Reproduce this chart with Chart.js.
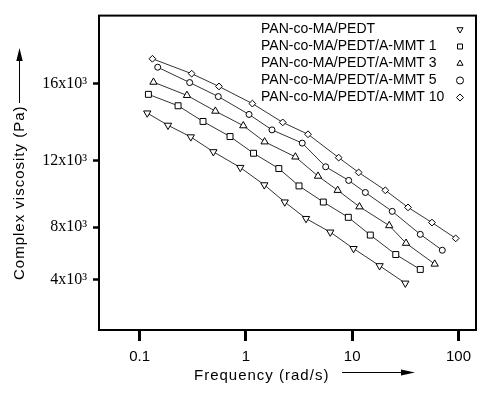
<!DOCTYPE html>
<html>
<head>
<meta charset="utf-8">
<script src="https://cdn.jsdelivr.net/npm/chart.js@4"></script>
<style>
  body { margin: 0; background: #fff; }
  #wrap { width: 491px; height: 396px; }
</style>
</head>
<body>
<div id="wrap"><canvas id="viscosity" width="491" height="396"></canvas></div>
<script>
// series labels
const seriesNames = ['PAN-co-MA/PEDT', 'PAN-co-MA/PEDT/A-MMT 1', 'PAN-co-MA/PEDT/A-MMT 3',
  'PAN-co-MA/PEDT/A-MMT 5', 'PAN-co-MA/PEDT/A-MMT 10'];

// frequency (rad/s) and complex viscosity (Pa)
const freqPEDT = [0.118, 0.185, 0.303, 0.494, 0.886, 1.49, 2.32, 3.68, 6.22, 10.3, 18.1, 31.6];
const viscPEDT = [14540, 13910, 13300, 12500, 11630, 10630, 9600, 8560, 7660, 6500, 5180, 3660];
const freqMMT1 = [0.121, 0.230, 0.395, 0.709, 1.18, 2.04, 3.16, 5.35, 9.19, 14.8, 25.7, 43.7];
const viscMMT1 = [15480, 14910, 14110, 13320, 12420, 11570, 10570, 9600, 8640, 7460, 6060, 4880];
const freqMMT3 = [0.135, 0.279, 0.516, 0.945, 1.50, 2.92, 4.77, 7.30, 11.7, 22.3, 32.1, 59.7];
const viscMMT3 = [16080, 15430, 14640, 13890, 13040, 12220, 11140, 10310, 9310, 8100, 6890, 5320];
const freqMMT5 = [0.148, 0.296, 0.550, 1.07, 1.76, 3.39, 5.63, 9.27, 13.3, 23.8, 43.7, 70.4];
const viscMMT5 = [16800, 16060, 15370, 14470, 13670, 12970, 11670, 10890, 10180, 9020, 7510, 6380];
const freqMMT10 = [0.132, 0.309, 0.558, 1.15, 2.22, 3.84, 7.46, 11.5, 20.5, 33.5, 56.3, 94.1];
const viscMMT10 = [17200, 16490, 15870, 15020, 14060, 13440, 12180, 11350, 10310, 9270, 8300, 7230];

// axes
const xTicks = [0.1, 1, 10, 100];
const xTickLabels = ['0.1', '1', '10', '100'];
const yTicks = [4000, 8000, 12000, 16000];
const yTickLabels = ['4x10\u00b3', '8x10\u00b3', '12x10\u00b3', '16x10\u00b3'];
const xTitle = 'Frequency (rad/s)';
const yTitle = 'Complex viscosity (Pa)';

// the original y axis is not linear: it follows roughly v^1.45
const POW = 1.45;
function powT(v) { const u = v / 1000; return Math.sign(u) * Math.pow(Math.abs(u), POW); }
function powInv(t) { return Math.sign(t) * Math.pow(Math.abs(t), 1 / POW) * 1000; }

class PowerScale extends Chart.LinearScale {
  getPixelForValue(value) {
    const a = powT(this.min), b = powT(this.max);
    return this.getPixelForDecimal((powT(value) - a) / (b - a));
  }
  getValueForPixel(pixel) {
    const a = powT(this.min), b = powT(this.max);
    return powInv(a + this.getDecimalForPixel(pixel) * (b - a));
  }
}
PowerScale.id = 'power';
PowerScale.defaults = Chart.LinearScale.defaults;
Chart.register(PowerScale);

function pts(xs, ys) {
  return xs.map((x, i) => ({x: x, y: ys[i]}));
}

function series(i, xs, ys, style, radius, rotation) {
  return {
    label: seriesNames[i],
    data: pts(xs, ys),
    borderColor: '#333',
    borderWidth: 1,
    tension: 0,
    fill: false,
    pointStyle: style,
    pointRadius: radius,
    pointRotation: rotation || 0,
    pointBorderColor: '#000',
    pointBackgroundColor: '#fff',
    pointBorderWidth: 1
  };
}

const legendPlacer = {
  id: 'legendPlacer',
  afterLayout(chart) {
    const lg = chart.legend;
    lg.left = 261; lg.right = 465.5; lg.width = 204.5;
    lg.top = 19.5; lg.bottom = 125; lg.height = 105.5;
  }
};

const frameAndTitles = {
  id: 'frameAndTitles',
  afterDraw(chart) {
    const ctx = chart.ctx, ca = chart.chartArea;
    ctx.save();
    ctx.strokeStyle = '#000';
    ctx.fillStyle = '#000';
    ctx.lineWidth = 2;
    ctx.strokeRect(ca.left, ca.top, ca.right - ca.left, ca.bottom - ca.top);

    ctx.font = '15px "Liberation Sans", Arial, sans-serif';
    ctx.letterSpacing = '1px';
    ctx.textAlign = 'left';
    ctx.textBaseline = 'alphabetic';
    ctx.fillText(xTitle, 194, 379.5);
    ctx.save();
    ctx.translate(24, 280);
    ctx.rotate(-Math.PI / 2);
    ctx.fillText(yTitle, 0, 0);
    ctx.restore();

    // arrows next to the titles
    ctx.lineWidth = 1;
    ctx.beginPath();
    ctx.moveTo(342, 372.5); ctx.lineTo(403, 372.5);
    ctx.moveTo(19.5, 103); ctx.lineTo(19.5, 58);
    ctx.stroke();
    ctx.beginPath();
    ctx.moveTo(415, 372.5); ctx.lineTo(401, 369.5); ctx.lineTo(401, 375.5); ctx.closePath();
    ctx.moveTo(19.5, 48); ctx.lineTo(16.3, 61); ctx.lineTo(22.7, 61); ctx.closePath();
    ctx.fill();
    ctx.restore();
  }
};

Chart.defaults.font.family = '"Liberation Sans", Arial, sans-serif';
Chart.defaults.color = '#000';

new Chart(document.getElementById('viscosity'), {
  type: 'line',
  data: {
    datasets: [
      series(0, freqPEDT, viscPEDT, 'triangle', 4.2, 180),
      series(1, freqMMT1, viscMMT1, 'rect', 4.2),
      series(2, freqMMT3, viscMMT3, 'triangle', 4.2),
      series(3, freqMMT5, viscMMT5, 'circle', 3),
      series(4, freqMMT10, viscMMT10, 'rectRot', 3.4)
    ]
  },
  options: {
    responsive: false,
    animation: false,
    events: [],
    layout: { padding: { top: 12, right: 15, left: 0, bottom: 0 } },
    plugins: {
      tooltip: { enabled: false },
      legend: {
        position: 'chartArea',
        align: 'start',
        rtl: true,
        labels: {
          usePointStyle: true,
          boxWidth: 5,
          boxHeight: 5,
          padding: 3,
          textAlign: 'right',
          color: '#000',
          font: { size: 14, family: '"Liberation Sans", Arial, sans-serif' }
        }
      }
    },
    scales: {
      x: {
        type: 'logarithmic',
        min: 0.0415,
        max: 146.1,
        afterBuildTicks: s => { s.ticks = xTicks.map(v => ({value: v})); },
        afterFit: s => { s.height = 66; },
        ticks: {
          autoSkip: false,
          maxRotation: 0,
          padding: 7,
          color: '#000',
          font: { size: 15, family: '"Liberation Sans", Arial, sans-serif' },
          callback: (v, i) => xTickLabels[i]
        },
        grid: { drawOnChartArea: false, tickLength: 11, tickWidth: 3, tickColor: '#000' },
        border: { display: false }
      },
      y: {
        type: 'power',
        min: -3022,
        max: 19190,
        afterBuildTicks: s => { s.ticks = yTicks.map(v => ({value: v})); },
        afterFit: s => { s.width = 99; },
        ticks: {
          padding: 6,
          color: '#000',
          font: { size: 16, family: '"Liberation Serif", "Times New Roman", serif' },
          callback: (v, i) => yTickLabels[i]
        },
        grid: { drawOnChartArea: false, tickLength: 6, tickWidth: 2.5, tickColor: '#000' },
        border: { display: false }
      }
    }
  },
  plugins: [legendPlacer, frameAndTitles]
});
</script>
</body>
</html>
